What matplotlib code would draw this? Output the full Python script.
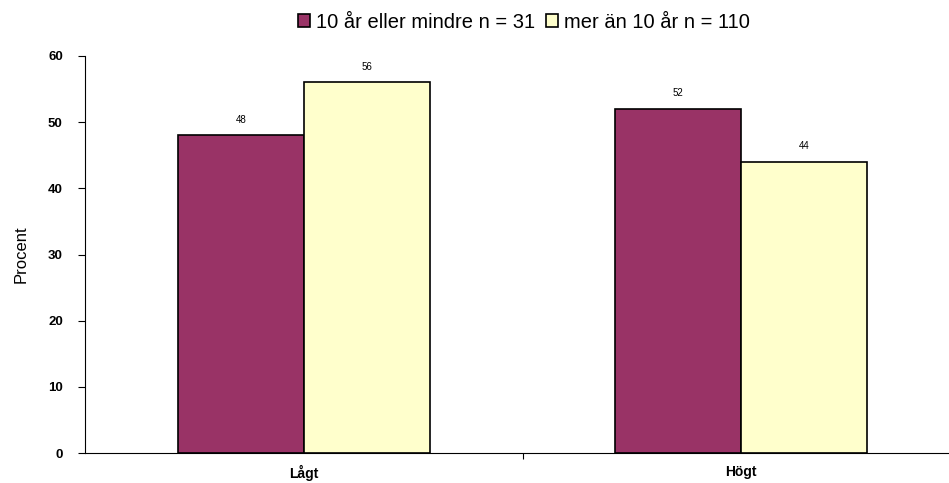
import matplotlib
matplotlib.use("Agg")
import matplotlib.pyplot as plt
import numpy as np

categories = ["Lågt", "Högt"]
series_names = ["10 år eller mindre n = 31", "mer än 10 år n = 110"]
values_a = [48, 52]
values_b = [56, 44]
yticks = [0, 10, 20, 30, 40, 50, 60]

plt.rcParams['font.family'] = ['Liberation Sans', 'DejaVu Sans']

fig = plt.figure(figsize=(9.49, 4.83), dpi=100)
W, H = 949, 483
ax = fig.add_axes([85 / W, (H - 453) / H, (960 - 85) / W, (453 - 56) / H])

x = np.arange(len(categories))
bw = 0.288
ax.bar(x - bw / 2, values_a, bw, color="#993366", edgecolor="black", linewidth=1.2, label=series_names[0])
ax.bar(x + bw / 2, values_b, bw, color="#FFFFCC", edgecolor="black", linewidth=1.2, label=series_names[1])

for xi, v in zip(x - bw / 2, values_a):
    ax.text(xi, v + 1.6, str(v), ha="center", va="bottom", fontsize=7)
for xi, v in zip(x + bw / 2, values_b):
    ax.text(xi, v + 1.6, str(v), ha="center", va="bottom", fontsize=7)

ax.set_xlim(-0.5, 1.5)
ax.set_ylim(0, 60)
ax.set_yticks(yticks)
ax.set_yticklabels([str(t) for t in yticks], fontweight="bold", fontsize=9.5)
ax.set_xticks([0.5], minor=False)
ax.set_xticklabels([""])
ax.tick_params(axis="x", length=4, direction="out")
ax.tick_params(axis="y", length=5, direction="out", pad=11)
for xi, c in zip(x, categories):
    ax.text(xi, -1.8, c, ha="center", va="top", fontsize=10, fontweight="bold")
ax.spines["top"].set_visible(False)
ax.spines["right"].set_visible(False)
ax.set_ylabel("Procent", fontsize=12, labelpad=14)

fig.legend(loc="center", bbox_to_anchor=(524 / W, 1 - 22 / H), ncol=2, frameon=False,
           fontsize=14.5, handlelength=0.6, handleheight=0.6, handletextpad=0.3, columnspacing=0.5)

fig.savefig("out.png", dpi=100)
